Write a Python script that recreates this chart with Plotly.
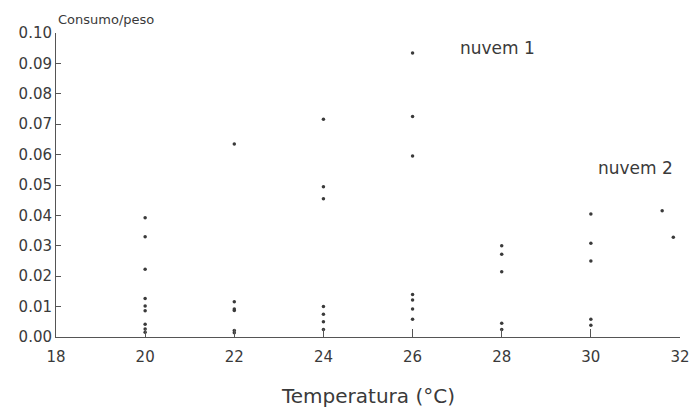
import plotly.graph_objects as go

# Data (temperature °C, consumption/weight)
temp_20 = [20] * 9
cons_20 = [0.0392, 0.0330, 0.0223, 0.0127, 0.0102, 0.0086, 0.0042, 0.0026, 0.0016]
temp_22 = [22] * 6
cons_22 = [0.0635, 0.0116, 0.0092, 0.0087, 0.0021, 0.0014]
temp_24 = [24] * 7
cons_24 = [0.0716, 0.0494, 0.0455, 0.0100, 0.0075, 0.0050, 0.0025]
temp_26 = [26] * 7
cons_26 = [0.0934, 0.0725, 0.0595, 0.0140, 0.0122, 0.0092, 0.0058]
temp_28 = [28] * 5
cons_28 = [0.0300, 0.0272, 0.0215, 0.0045, 0.0025]
temp_30 = [30] * 5
cons_30 = [0.0405, 0.0308, 0.0250, 0.0058, 0.0039]
temp_32 = [31.6, 31.85]
cons_32 = [0.0415, 0.0328]

x_ticks = [18, 20, 22, 24, 26, 28, 30, 32]
y_ticks = [0.00, 0.01, 0.02, 0.03, 0.04, 0.05, 0.06, 0.07, 0.08, 0.09, 0.10]

xs = temp_20 + temp_22 + temp_24 + temp_26 + temp_28 + temp_30 + temp_32
ys = cons_20 + cons_22 + cons_24 + cons_26 + cons_28 + cons_30 + cons_32

ink = "#3a3a3a"
font = "DejaVu Sans, Verdana, sans-serif"

fig = go.Figure()
fig.add_trace(go.Scatter(
    x=xs, y=ys, mode="markers",
    marker=dict(size=3.5, color=ink),
    showlegend=False, hoverinfo="x+y",
))

fig.update_layout(
    width=694, height=410,
    margin=dict(l=56, r=14, t=33, b=73),
    paper_bgcolor="white", plot_bgcolor="white",
    font=dict(family=font, color=ink, size=14),
    xaxis=dict(
        range=[18, 32], tickvals=x_ticks, ticktext=[str(v) for v in x_ticks],
        showgrid=False, zeroline=False, showline=True, linecolor="#555", linewidth=1,
        ticks="inside", ticklen=8, tickcolor="#555",
        ticklabelstandoff=6, automargin=False,
        tickfont=dict(size=15, color=ink),
    ),
    yaxis=dict(
        range=[0, 0.10], tickvals=y_ticks, ticktext=[f"{v:.2f}" for v in y_ticks],
        showgrid=False, zeroline=False, showline=True, linecolor="#555", linewidth=1,
        ticks="inside", ticklen=5, tickcolor="#555", automargin=False,
        tickfont=dict(size=15, color=ink),
    ),
    annotations=[
        dict(text="Consumo/peso", xref="paper", yref="paper", x=0, y=1.0,
             xanchor="left", yanchor="bottom", yshift=4, showarrow=False,
             font=dict(size=13, color=ink)),
        dict(text="Temperatura (°C)", xref="paper", yref="paper", x=0.5, y=-0.194,
             xanchor="center", yanchor="middle", showarrow=False,
             font=dict(size=20, color=ink)),
        dict(text="nuvem 1", x=27.9, y=0.095, showarrow=False,
             font=dict(size=17, color=ink)),
        dict(text="nuvem 2", x=31.0, y=0.0555, showarrow=False,
             font=dict(size=17, color=ink)),
    ],
)

fig.write_html("out.html")
